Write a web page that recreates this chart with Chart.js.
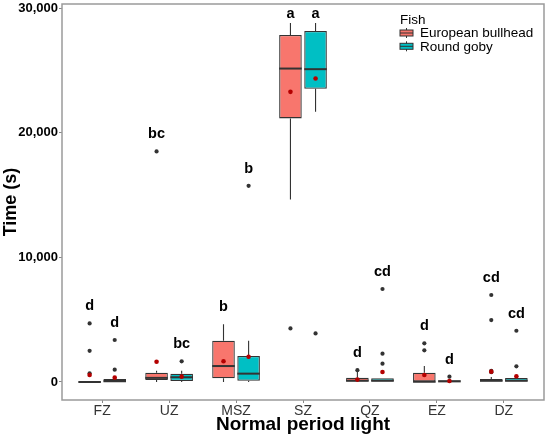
<!DOCTYPE html>
<html>
<head>
<meta charset="utf-8">
<script src="https://cdn.jsdelivr.net/npm/chart.js@4.4.1/dist/chart.umd.min.js"></script>
<style>
  body { margin: 0; background: #fff; }
  #wrap { width: 550px; height: 438px; }
</style>
</head>
<body>
<div id="wrap"><canvas id="boxChart"></canvas></div>
<script>
// zones along x, fish groups, y ticks
var zones = ['FZ', 'UZ', 'MSZ', 'SZ', 'QZ', 'EZ', 'DZ'];
var fishNames = ['European bullhead', 'Round goby'];
var yTicks = [0, 10000, 20000, 30000];

// European bullhead (seconds)
var bullLow    = [0, 0, 0, 14650, 0, 0, 0];
var bullQ1     = [0, 160, 300, 21150, 0, 0, 0];
var bullMedian = [0, 330, 1280, 25150, 100, 20, 100];
var bullQ3     = [0, 750, 3310, 27850, 350, 750, 240];
var bullHigh   = [0, 900, 4630, 28800, 800, 1280, 400];
var bullMean   = [560, 1630, 1660, 23280, 190, 560, 830];
var bullOut    = [[4700, 2500, 700], [18500], [], [4300], [950], [3100, 2540], [6980, 4970, 900, 780]];
var bullLetters = ['d', 'bc', 'b', 'a', 'd', 'd', 'cd'];

// Round goby (seconds)
var gobyLow    = [0, 0, 0, 21680, 0, 0, 0];
var gobyQ1     = [0, 80, 100, 23520, 0, 0, 0];
var gobyMedian = [60, 380, 670, 25100, 100, 50, 100];
var gobyQ3     = [250, 670, 2085, 28170, 300, 130, 320];
var gobyHigh   = [250, 900, 3310, 28800, 300, 130, 320];
var gobyMean   = [350, 430, 2030, 24350, 800, 80, 460];
var gobyOut    = [[3370, 990], [1660], [15740], [3900], [7460, 2270, 1470], [430], [4110, 1260]];
var gobyLetters = ['d', 'bc', 'b', 'a', 'cd', 'd', 'cd'];

var FONT = '"Liberation Sans", Arial, sans-serif';

function boxData(q1, q3) {
  return zones.map(function(z, i) { return { x: i, y: [q1[i], q3[i]] }; });
}

// whiskers, medians, means, outliers, letters, border, legend
var boxExtras = {
  id: 'boxExtras',
  beforeDatasetsDraw: function(chart) {
    var ctx = chart.ctx, ys = chart.scales.y;
    ctx.save();
    ctx.strokeStyle = '#333';
    ctx.lineWidth = 1.1;
    chart.data.datasets.forEach(function(ds, d) {
      var meta = chart.getDatasetMeta(d);
      meta.data.forEach(function(bar, i) {
        var x = bar.x;
        ctx.beginPath();
        ctx.moveTo(x, ys.getPixelForValue(ds.q3[i]));
        ctx.lineTo(x, ys.getPixelForValue(ds.high[i]));
        ctx.moveTo(x, ys.getPixelForValue(ds.q1[i]));
        ctx.lineTo(x, ys.getPixelForValue(ds.low[i]));
        ctx.stroke();
      });
    });
    ctx.restore();
  },
  afterDatasetsDraw: function(chart) {
    var ctx = chart.ctx, ys = chart.scales.y, area = chart.chartArea;
    ctx.save();
    chart.data.datasets.forEach(function(ds, d) {
      var meta = chart.getDatasetMeta(d);
      meta.data.forEach(function(bar, i) {
        var x = bar.x, w = bar.width;
        // median
        ctx.strokeStyle = '#333';
        ctx.lineWidth = 2;
        ctx.beginPath();
        var my = ys.getPixelForValue(ds.median[i]);
        ctx.moveTo(x - w / 2, my);
        ctx.lineTo(x + w / 2, my);
        ctx.stroke();
        // outliers
        ctx.fillStyle = '#333';
        ds.out[i].forEach(function(v) {
          ctx.beginPath();
          ctx.arc(x, ys.getPixelForValue(v), 2.1, 0, Math.PI * 2);
          ctx.fill();
        });
        // mean
        ctx.fillStyle = '#b40000';
        ctx.beginPath();
        ctx.arc(x, ys.getPixelForValue(ds.mean[i]), 2.3, 0, Math.PI * 2);
        ctx.fill();
        // letters
        var top = Math.max.apply(null, [ds.high[i]].concat(ds.out[i]));
        var ly = Math.max(ys.getPixelForValue(top) - 17, area.top + 10);
        ctx.fillStyle = '#000';
        ctx.font = 'bold 14.5px ' + FONT;
        ctx.textAlign = 'center';
        ctx.textBaseline = 'middle';
        ctx.fillText(ds.letters[i], x, ly);
      });
    });
    ctx.restore();
  },
  afterDraw: function(chart) {
    var ctx = chart.ctx, a = chart.chartArea;
    ctx.save();
    // panel border
    ctx.strokeStyle = '#9a9a9a';
    ctx.lineWidth = 1.5;
    ctx.strokeRect(a.left, a.top, a.right - a.left, a.bottom - a.top);
    // legend
    var lx = a.right - 144, ly = a.top + 16;
    ctx.font = '13.5px ' + FONT;
    ctx.fillStyle = '#000';
    ctx.textAlign = 'left';
    ctx.textBaseline = 'middle';
    ctx.fillText('Fish', lx, ly);
    chart.data.datasets.forEach(function(ds, k) {
      var cy = ly + 13 + k * 13.3;
      ctx.strokeStyle = '#333';
      ctx.lineWidth = 1;
      ctx.beginPath();
      ctx.moveTo(lx + 6.5, cy - 5);
      ctx.lineTo(lx + 6.5, cy + 5);
      ctx.stroke();
      ctx.fillStyle = ds.backgroundColor;
      ctx.fillRect(lx, cy - 3, 13, 6);
      ctx.strokeRect(lx, cy - 3, 13, 6);
      ctx.beginPath();
      ctx.moveTo(lx, cy);
      ctx.lineTo(lx + 13, cy);
      ctx.stroke();
      ctx.fillStyle = '#000';
      ctx.fillText(ds.label, lx + 20, cy + 0.5);
    });
    ctx.restore();
  }
};

var ctx = document.getElementById('boxChart').getContext('2d');
var boxChart = new Chart(ctx, {
  type: 'bar',
  data: {
    datasets: [{
      label: fishNames[0],
      data: boxData(bullQ1, bullQ3),
      backgroundColor: '#F8766D',
      borderColor: '#333',
      borderWidth: 1.3,
      borderSkipped: false,
      low: bullLow, q1: bullQ1, median: bullMedian, q3: bullQ3, high: bullHigh,
      mean: bullMean, out: bullOut, letters: bullLetters
    }, {
      label: fishNames[1],
      data: boxData(gobyQ1, gobyQ3),
      backgroundColor: '#00BFC4',
      borderColor: '#333',
      borderWidth: 1.3,
      borderSkipped: false,
      low: gobyLow, q1: gobyQ1, median: gobyMedian, q3: gobyQ3, high: gobyHigh,
      mean: gobyMean, out: gobyOut, letters: gobyLetters
    }]
  },
  options: {
    responsive: true,
    maintainAspectRatio: false,
    animation: false,
    categoryPercentage: 0.75,
    barPercentage: 0.9,
    layout: { padding: { top: 4, right: 6, left: 0, bottom: 0 } },
    plugins: {
      legend: { display: false },
      tooltip: { enabled: false }
    },
    scales: {
      x: {
        type: 'linear',
        offset: false,
        min: -0.6,
        max: 6.6,
        afterBuildTicks: function(axis) {
          axis.ticks = zones.map(function(z, i) { return { value: i }; });
        },
        afterFit: function(scale) {
          scale.height = 38;
          scale.paddingLeft = 0;
          scale.paddingRight = 0;
        },
        grid: { offset: false, drawOnChartArea: false, drawTicks: true, tickLength: 3, color: '#888' },
        border: { display: false },
        ticks: {
          padding: 0,
          color: '#333',
          font: { family: FONT, size: 14 },
          callback: function(v) { return zones[v]; }
        },
        title: {
          display: true,
          text: 'Normal period light',
          color: '#000',
          padding: { top: 0, bottom: 2 },
          font: { family: FONT, size: 19, weight: 'bold' }
        }
      },
      y: {
        min: -1445,
        max: 30330,
        afterBuildTicks: function(axis) {
          axis.ticks = yTicks.map(function(v) { return { value: v }; });
        },
        afterFit: function(scale) {
          scale.width = 62;
          scale.paddingTop = 0;
          scale.paddingBottom = 0;
        },
        grid: { drawOnChartArea: false, drawTicks: true, tickLength: 3, color: '#888' },
        border: { display: false },
        ticks: {
          padding: 1,
          color: '#000',
          font: { family: FONT, size: 13, weight: 'bold' },
          callback: function(v) { return v.toLocaleString('en-US'); }
        },
        title: {
          display: true,
          text: 'Time (s)',
          color: '#000',
          padding: { top: 0, bottom: 0 },
          font: { family: FONT, size: 18, weight: 'bold' }
        }
      }
    }
  },
  plugins: [boxExtras]
});
</script>
</body>
</html>
